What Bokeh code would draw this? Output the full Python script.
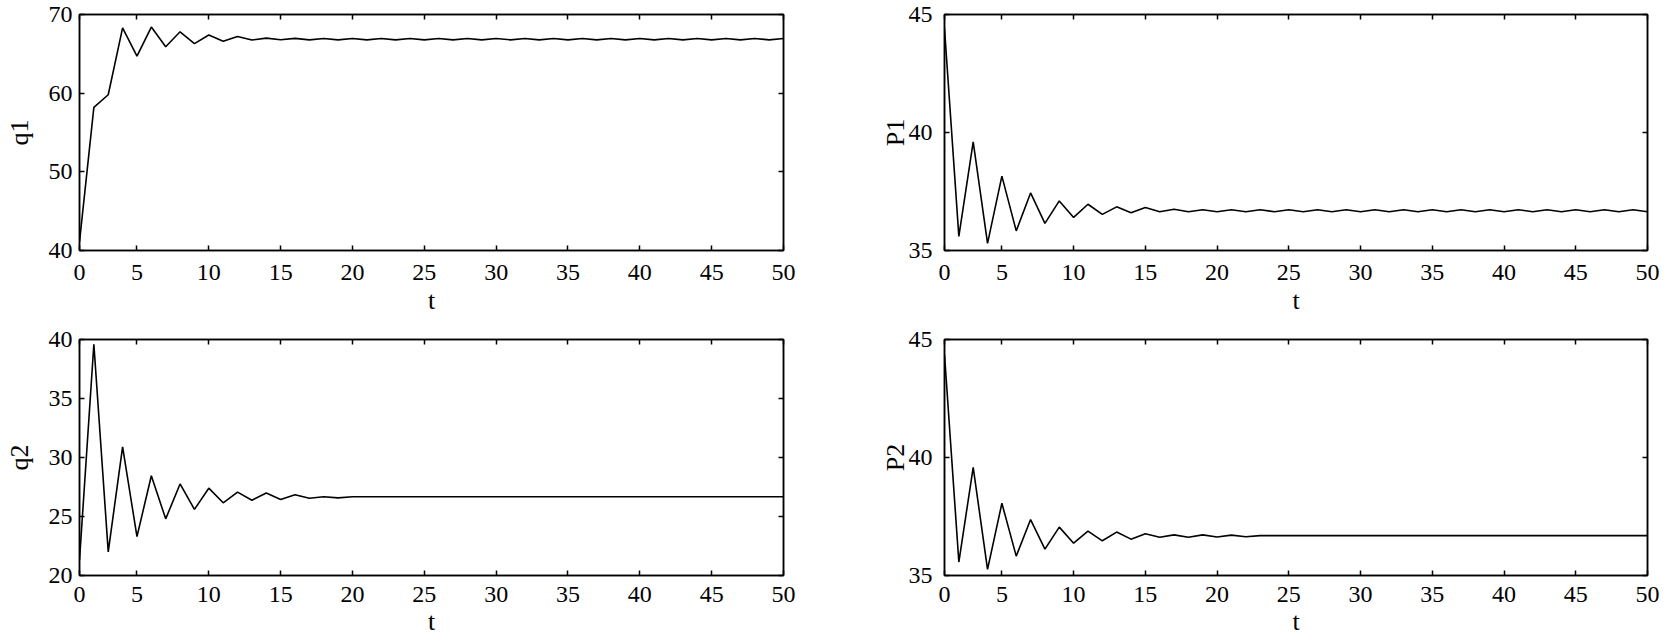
from bokeh.plotting import figure
from bokeh.models import LinearAxis, FixedTicker, Range1d
from bokeh.layouts import column, row
from bokeh.embed import file_html
from bokeh.resources import INLINE

# ---------------- data ----------------
t = list(range(1, 51))

q1 = [41.1, 58.2, 59.8, 68.3, 64.7, 68.4, 65.9, 67.8, 66.3, 67.4,
      66.6, 67.2, 66.75, 67.0, 66.8, 66.96, 66.78, 66.95, 66.78, 66.95,
      66.78, 66.95, 66.78, 66.95, 66.78, 66.95, 66.78, 66.95, 66.78, 66.95,
      66.78, 66.95, 66.78, 66.95, 66.78, 66.95, 66.78, 66.95, 66.78, 66.95,
      66.78, 66.95, 66.78, 66.95, 66.78, 66.95, 66.78, 66.95, 66.78, 66.95]

P1 = [44.4, 35.6, 39.6, 35.3, 38.15, 35.83, 37.44, 36.15, 37.1, 36.4,
      36.96, 36.53, 36.85, 36.6, 36.82, 36.64, 36.75, 36.64, 36.73, 36.64,
      36.73, 36.64, 36.73, 36.64, 36.73, 36.64, 36.73, 36.64, 36.73, 36.64,
      36.73, 36.64, 36.73, 36.64, 36.73, 36.64, 36.73, 36.64, 36.73, 36.64,
      36.73, 36.64, 36.73, 36.64, 36.73, 36.64, 36.73, 36.64, 36.73, 36.64]

q2 = [21.3, 39.6, 22.0, 30.9, 23.3, 28.45, 24.8, 27.76, 25.6, 27.4,
      26.16, 27.07, 26.38, 26.99, 26.44, 26.85, 26.55, 26.68, 26.58, 26.67,
      26.67, 26.67, 26.67, 26.67, 26.67, 26.67, 26.67, 26.67, 26.67, 26.67,
      26.67, 26.67, 26.67, 26.67, 26.67, 26.67, 26.67, 26.67, 26.67, 26.67,
      26.67, 26.67, 26.67, 26.67, 26.67, 26.67, 26.67, 26.67, 26.67, 26.67]

P2 = [44.36, 35.57, 39.58, 35.26, 38.06, 35.82, 37.37, 36.12, 37.05, 36.37,
      36.88, 36.47, 36.84, 36.54, 36.77, 36.62, 36.72, 36.62, 36.72, 36.63,
      36.71, 36.64, 36.69, 36.69, 36.69, 36.69, 36.69, 36.69, 36.69, 36.69,
      36.69, 36.69, 36.69, 36.69, 36.69, 36.69, 36.69, 36.69, 36.69, 36.69,
      36.69, 36.69, 36.69, 36.69, 36.69, 36.69, 36.69, 36.69, 36.69, 36.69]

x_ticks = [1, 5, 10, 15, 20, 25, 30, 35, 40, 45, 50]
x_tick_labels = ["0", "5", "10", "15", "20", "25", "30", "35", "40", "45", "50"]

q1_ticks = [40, 50, 60, 70]
P_ticks = [35, 40, 45]
q2_ticks = [20, 25, 30, 35, 40]

FONT = "Liberation Serif"
TICK_FS = "24px"
LABEL_FS = "26px"


def style_axis(ax):
    ax.axis_line_color = "black"
    ax.axis_line_width = 1.5
    ax.major_tick_line_color = "black"
    ax.major_tick_line_width = 1.5
    ax.major_tick_in = 5
    ax.major_tick_out = 0
    ax.minor_tick_line_color = None
    ax.major_label_text_font = FONT
    ax.major_label_text_font_size = TICK_FS
    ax.major_label_text_color = "black"
    ax.axis_label_text_font = FONT
    ax.axis_label_text_font_size = LABEL_FS
    ax.axis_label_text_font_style = "normal"
    ax.axis_label_text_color = "black"


def make_fig(y, ylabel, yticks, yr, width, height, bl, br, bt, bb,
             ytick_standoff, ylabel_standoff, xtick_standoff, xlabel_standoff):
    p = figure(width=width, height=height,
               x_range=Range1d(1, 50), y_range=Range1d(*yr),
               output_backend="svg", toolbar_location=None,
               min_border_left=bl, min_border_right=br,
               min_border_top=bt, min_border_bottom=bb)
    p.grid.visible = False
    p.outline_line_color = "black"
    p.outline_line_width = 1.5
    p.background_fill_color = "white"
    p.border_fill_color = "white"

    p.line(t, y, line_color="black", line_width=1.6)

    xa = p.xaxis[0]
    xa.ticker = FixedTicker(ticks=x_ticks)
    xa.major_label_overrides = {k: v for k, v in zip(x_ticks, x_tick_labels)}
    xa.axis_label = "t"
    style_axis(xa)
    xa.major_label_standoff = xtick_standoff
    xa.axis_label_standoff = xlabel_standoff

    ya = p.yaxis[0]
    ya.ticker = FixedTicker(ticks=yticks)
    ya.axis_label = ylabel
    style_axis(ya)
    ya.major_label_standoff = ytick_standoff
    ya.axis_label_standoff = ylabel_standoff

    top = LinearAxis(ticker=FixedTicker(ticks=x_ticks))
    style_axis(top)
    top.major_label_text_font_size = "1px"
    top.major_label_text_color = None
    top.major_label_standoff = 0
    p.add_layout(top, "above")

    right = LinearAxis(ticker=FixedTicker(ticks=yticks))
    style_axis(right)
    right.major_label_text_font_size = "1px"
    right.major_label_text_color = None
    right.major_label_standoff = 0
    p.add_layout(right, "right")
    return p


p1 = make_fig(q1, "q1", q1_ticks, (40, 70), 860, 325, 79, 77, 14, 75, 7, 12, 14, 3)
p2 = make_fig(P1, "P1", P_ticks, (35, 45), 807, 325, 84, 20, 14, 75, 12, -4, 14, 3)
p3 = make_fig(q2, "q2", q2_ticks, (20, 40), 860, 319, 79, 77, 14, 69, 7, 12, 11, 2)
p4 = make_fig(P2, "P2", P_ticks, (35, 45), 807, 319, 84, 20, 14, 69, 12, -4, 11, 2)

layout = column(row(p1, p2, spacing=0), row(p3, p4, spacing=0), spacing=0)

with open("out.html", "w") as f:
    f.write(file_html(layout, INLINE))
